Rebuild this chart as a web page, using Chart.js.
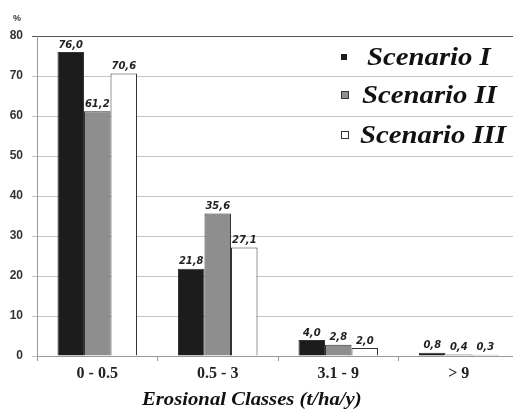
<!DOCTYPE html>
<html>
<head>
  <script src="https://cdn.jsdelivr.net/npm/chart.js@4"></script>
  <style>
    body { margin: 0; background: #fff; }
    .wrap { width: 513px; height: 409px; overflow: hidden; position: relative; }
  </style>
</head>
<body>
  <div class="wrap">
    <canvas id="chart" width="520" height="409"></canvas>
  </div>
  <script>
    // chart data
    const classes = ['0 - 0.5', '0.5 - 3', '3.1 - 9', '> 9'];
    const scenario1 = [76.0, 21.8, 4.0, 0.8];
    const scenario2 = [61.2, 35.6, 2.8, 0.4];
    const scenario3 = [70.6, 27.1, 2.0, 0.3];
    const seriesNames = ['Scenario I', 'Scenario II', 'Scenario III'];
    const yTicks = [0, 10, 20, 30, 40, 50, 60, 70, 80];

    const fills = ['#1c1c1c', '#8e8e8e', '#ffffff'];

    // value labels above each bar, decimal comma
    const valueLabels = {
      id: 'valueLabels',
      afterDatasetsDraw(chart) {
        const ctx = chart.ctx;
        ctx.save();
        ctx.font = 'italic bold 10px "DejaVu Sans"';
        ctx.fillStyle = '#222';
        ctx.textAlign = 'center';
        ctx.textBaseline = 'bottom';
        chart.data.datasets.forEach((ds, i) => {
          chart.getDatasetMeta(i).data.forEach((bar, j) => {
            const txt = ds.data[j].toFixed(1).replace('.', ',');
            ctx.fillText(txt, bar.x, bar.y - 2);
          });
        });
        ctx.restore();
      }
    };

    // draws text squeezed/stretched horizontally like the scanned original
    function wideText(ctx, txt, x, y, sx) {
      ctx.save();
      ctx.translate(x, y);
      ctx.scale(sx, 1);
      ctx.fillText(txt, 0, 0);
      ctx.restore();
    }

    // legend inside the plot, axis title and "%" unit
    const extras = {
      id: 'extras',
      afterDraw(chart) {
        const ctx = chart.ctx;
        ctx.save();
        const rows = [57, 95, 135];
        const baselines = [65, 103, 143];
        const textX = [367, 362, 360];
        const sizes = [6, 8, 8];
        seriesNames.forEach((name, i) => {
          const s = sizes[i];
          ctx.fillStyle = fills[i];
          ctx.strokeStyle = '#333';
          ctx.lineWidth = 1;
          ctx.fillRect(341, rows[i] - s / 2, s, s);
          if (i > 0) ctx.strokeRect(341.5, rows[i] - s / 2 + 0.5, s - 1, s - 1);
          ctx.fillStyle = '#111';
          ctx.font = 'italic bold 25px "Liberation Serif"';
          ctx.textAlign = 'left';
          ctx.textBaseline = 'alphabetic';
          wideText(ctx, name, textX[i], baselines[i], 1.15);
        });

        ctx.font = 'italic bold 18px "Liberation Serif"';
        ctx.textAlign = 'left';
        wideText(ctx, 'Erosional Classes (t/ha/y)', 142, 405, 1.15);

        ctx.font = 'bold 9px "Liberation Sans"';
        ctx.fillStyle = '#333';
        ctx.fillText('%', 13, 21);
        ctx.restore();
      }
    };

    new Chart(document.getElementById('chart'), {
      type: 'bar',
      data: {
        labels: classes,
        datasets: [scenario1, scenario2, scenario3].map((d, i) => ({
          label: seriesNames[i],
          data: d,
          backgroundColor: fills[i],
          borderColor: '#333',
          borderWidth: 1,
          barPercentage: 1,
          categoryPercentage: 0.66
        }))
      },
      options: {
        responsive: false,
        animation: false,
        layout: { padding: { top: 36, right: 1, left: 0, bottom: 0 } },
        plugins: {
          legend: { display: false },
          tooltip: { enabled: false }
        },
        scales: {
          x: {
            grid: { drawOnChartArea: false, drawTicks: true, tickLength: 5, color: '#999' },
            border: { color: '#999' },
            ticks: {
              color: '#222',
              padding: 3,
              font: { family: 'Liberation Serif', size: 16, weight: 'bold' }
            },
            afterFit(scale) { scale.height = 53; }
          },
          y: {
            min: 0,
            max: 80,
            afterBuildTicks(scale) { scale.ticks = yTicks.map(v => ({ value: v })); },
            grid: {
              color: ctx => ctx.tick && ctx.tick.value === 80 ? '#555' : '#c4c4c4',
              lineWidth: 1,
              tickLength: 5
            },
            border: { color: '#999' },
            ticks: {
              color: '#333',
              padding: 9,
              font: { family: 'Liberation Sans', size: 12, weight: 'bold' }
            },
            afterFit(scale) { scale.width = 37; }
          }
        }
      },
      plugins: [valueLabels, extras]
    });
  </script>
</body>
</html>
